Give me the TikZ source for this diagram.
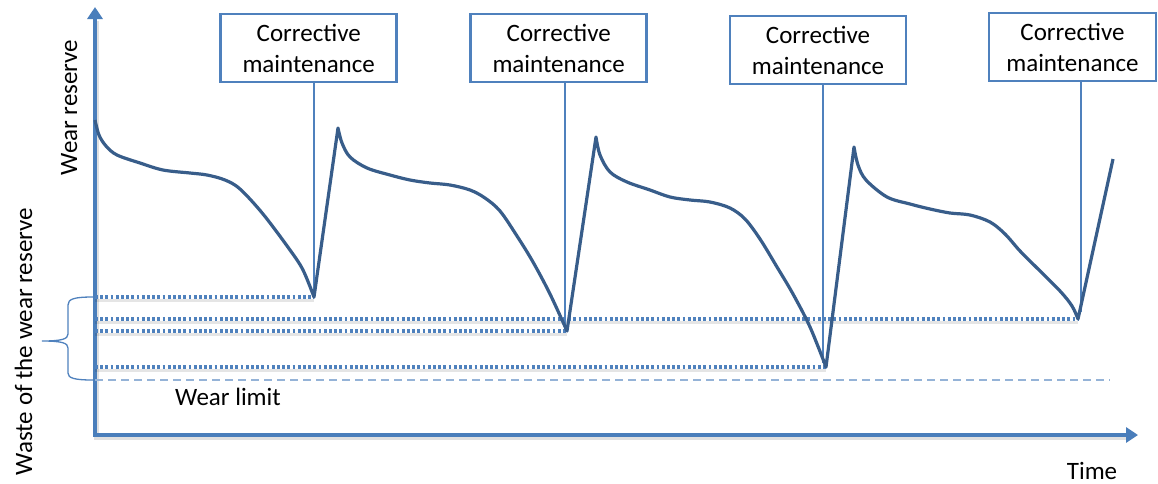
\documentclass[tikz,border=0pt]{standalone}
\usepackage{fontspec}
\setmainfont{Carlito}
\usetikzlibrary{arrows.meta}
\definecolor{axisblue}{HTML}{4A7EBB}
\definecolor{curveblue}{HTML}{385D8A}
\definecolor{dotblue}{HTML}{4F81BD}
\definecolor{limitblue}{HTML}{95B3D7}
\begin{document}
\begin{tikzpicture}[x=1pt,y=-1pt,
  every node/.style={font=\fontsize{25}{31}\selectfont, text=black},
  axis/.style={draw=axisblue, line width=4pt,
    {Triangle[length=12pt,width=15pt]}-{Triangle[length=12pt,width=15pt]}},
  axisshadow/.style={draw=black, opacity=0.12, line width=5pt},
  eventbox/.style={draw=dotblue, line width=2.8pt, fill=white,
    minimum width=176pt, minimum height=68pt, align=center, inner sep=0pt},
  stem/.style={draw=dotblue, line width=2.8pt},
  wear/.style={draw=curveblue, line width=3.2pt, line join=round},
  level/.style={draw=dotblue, line width=3.4pt, dash pattern=on 2.8pt off 2.4pt},
  levelshadow/.style={draw=black, opacity=0.10, line width=3pt},
  limit/.style={draw=limitblue, line width=1.2pt, dash pattern=on 8pt off 5pt},
  bracket/.style={draw=dotblue, line width=1.3pt},
  label/.style={anchor=base}
]
\useasboundingbox (0,0) rectangle (1158,483);

% axes
\coordinate (O) at (95,435);
\coordinate (ytip) at (95,7);
\coordinate (xtip) at (1138,435);
\draw[axisshadow] ([shift={(1.5,2.5)}]O |- 0,18) -- ([shift={(1.5,2.5)}]O) -- ([shift={(1.5,2.5)}]1126,435);
\draw[axis] (ytip) -- (O) -- (xtip);

% curve minima and stem ends
\coordinate (m1) at (314,297);
\coordinate (m2) at (567,331);
\coordinate (m3) at (826,367);
\coordinate (m4) at (1078,319);
\coordinate (s1) at (314,297);
\coordinate (s2) at (565,325);
\coordinate (s3) at (823,363);
\coordinate (s4) at (1081,312);
\coordinate (lim) at (1110,380);

% wear limit
\draw[limit] (O |- lim) -- (lim);

% residual levels at each intervention
\foreach \m in {m1,m2,m3,m4}{
  \draw[levelshadow] ([shift={(0,3)}]O |- \m) -- ([shift={(0,3)}]\m);
}
\draw[level] (O |- m1) -- (m1);
\draw[level] (O |- m4) -- (m4);
\draw[level] (O |- m2) -- (m2);
\draw[level] (O |- m3) -- (m3);

% maintenance boxes
\node[eventbox] (box1) at (308.7,48) {Corrective\\maintenance};
\node[eventbox] (box2) at (558.7,48) {Corrective\\maintenance};
\node[eventbox] (box3) at (818,50) {Corrective\\maintenance};
\node[eventbox, minimum width=167pt] (box4) at (1072.5,47) {Corrective\\maintenance};

\draw[stem] (box1.south -| s1) -- (s1);
\draw[stem] (box2.south -| s2) -- (s2);
\draw[stem] (box3.south -| s3) -- (s3);
\draw[stem] (box4.south -| s4) -- (s4);

% wear reserve over time
\draw[wear]
  plot[smooth, tension=0.55] coordinates {(95,120) (99,135) (106,146) (117,155) (140,163)
    (163,170) (190,173) (207,175) (225,180) (240,189) (263,214) (290,250) (303,270) (m1)}
  -- plot[smooth, tension=0.55] coordinates {(338,128) (342,143) (350,157) (367,168) (390,175)
    (410,180) (430,183) (450,185) (470,190) (485,198) (500,211) (517,236) (533,262) (550,294) (m2)}
  -- plot[smooth, tension=0.55] coordinates {(596,137) (600,155) (610,172) (627,182) (650,190)
    (670,197) (690,200) (710,202) (730,208) (745,219) (760,239) (777,267) (793,294) (810,327) (m3)}
  -- plot[smooth, tension=0.55] coordinates {(854,147) (858,165) (866,180) (887,197) (910,204)
    (930,209) (950,213) (970,215) (990,222) (1005,234) (1020,251) (1037,268) (1060,291) (1072,306) (m4)}
  -- (1113,159);

% bracket for the wasted reserve
\draw[bracket] (93,297) .. controls (74,297) and (68,299) .. (68,305) -- (68,334)
  .. controls (68,339) and (62,341) .. (42,341)
  .. controls (62,341) and (68,343) .. (68,348) -- (68,373)
  .. controls (68,378) and (74,380) .. (93,380);

% labels
\node[label, rotate=90] (reserve) at (77,107.5) {Wear reserve};
\node[label, rotate=90] (waste) at (32,341.5) {Waste of the wear reserve};
\node[label] (limtext) at (228,405) {Wear limit};
\node[label] (time) at (1092,479) {Time};
\end{tikzpicture}
\end{document}
